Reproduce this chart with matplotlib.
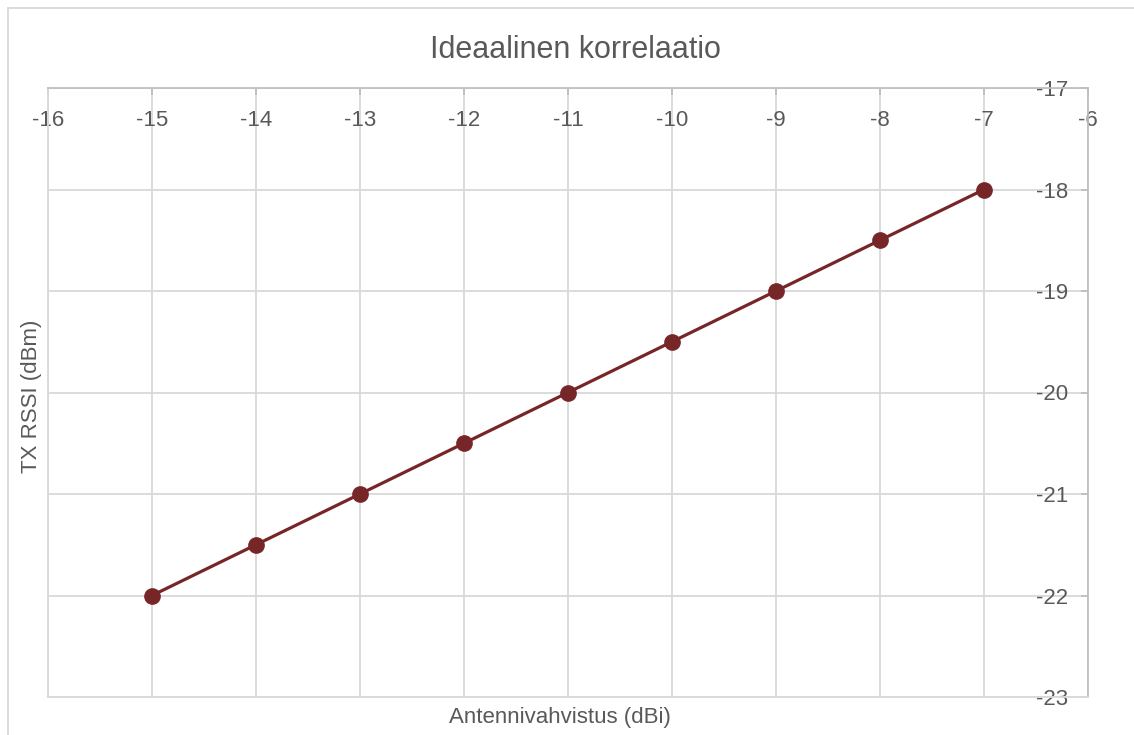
import matplotlib
matplotlib.use("Agg")
import matplotlib.pyplot as plt
from matplotlib.lines import Line2D

# Antenna gain (dBi) vs. expected TX RSSI (dBm)
gain_dbi = [-15, -14, -13, -12, -11, -10, -9, -8, -7]
rssi_dbm = [-22, -21.5, -21, -20.5, -20, -19.5, -19, -18.5, -18]

x_ticks = list(range(-16, -5))
y_ticks = list(range(-23, -16))

title = "Ideaalinen korrelaatio"
x_label = "Antennivahvistus (dBi)"
y_label = "TX RSSI (dBm)"

TEXT = "#595959"
GRID = "#d9d9d9"
AXIS = "#bfbfbf"
LINE = "#772628"

plt.rcParams["font.family"] = ["Liberation Sans Narrow", "Liberation Sans", "DejaVu Sans"]
plt.rcParams["axes.unicode_minus"] = False

W, H, DPI = 1134, 735, 100
fig = plt.figure(figsize=(W / DPI, H / DPI), dpi=DPI)

# plot area in pixel coordinates
left, right, top, bottom = 48, 1088, 88, 697
ax = fig.add_axes([left / W, 1 - bottom / H, (right - left) / W, (bottom - top) / H])

ax.plot(gain_dbi, rssi_dbm, color=LINE, lw=2.3, marker="o", ms=11,
        markerfacecolor=LINE, markeredgecolor=LINE, zorder=3, clip_on=False)

ax.set_xlim(-16, -6)
ax.set_ylim(-23, -17)
ax.set_xticks(x_ticks)
ax.set_yticks(y_ticks)
ax.grid(True, color=GRID, lw=1.3)
ax.set_axisbelow(True)

# horizontal axis sits on top, vertical axis on the right, labels inside
ax.tick_params(axis="x", top=True, bottom=False, labeltop=True, labelbottom=False,
               direction="in", length=5, width=1.3, color=AXIS, pad=-16,
               labelsize=16, labelcolor=TEXT)
ax.tick_params(axis="y", right=True, left=False, labelright=True, labelleft=False,
               direction="in", length=5, width=1.3, color=AXIS, pad=-14,
               labelsize=16, labelcolor=TEXT)
for lab in ax.get_yticklabels():
    lab.set_horizontalalignment("right")
for lab in ax.get_xticklabels():
    lab.set_verticalalignment("top")

for side in ("left", "bottom"):
    ax.spines[side].set_color(GRID)
    ax.spines[side].set_linewidth(1.3)
for side in ("top", "right"):
    ax.spines[side].set_color(AXIS)
    ax.spines[side].set_linewidth(1.3)

fig.text(575 / W, 1 - 50 / H, title, ha="center", va="center",
         fontsize=22, color=TEXT)
fig.text(560 / W, 1 - 718 / H, x_label, ha="center", va="center",
         fontsize=16, color=TEXT)
fig.text(32 / W, 1 - 396 / H, y_label, ha="center", va="center",
         rotation=90, fontsize=16, color=TEXT)

# chart frame (left and top edges)
fig.add_artist(Line2D([8 / W, 8 / W], [0, 1 - 8 / H], transform=fig.transFigure,
                      color=GRID, lw=1.3))
fig.add_artist(Line2D([8 / W, 1], [1 - 8 / H, 1 - 8 / H], transform=fig.transFigure,
                      color=GRID, lw=1.3))

fig.savefig("out.png", dpi=DPI)
